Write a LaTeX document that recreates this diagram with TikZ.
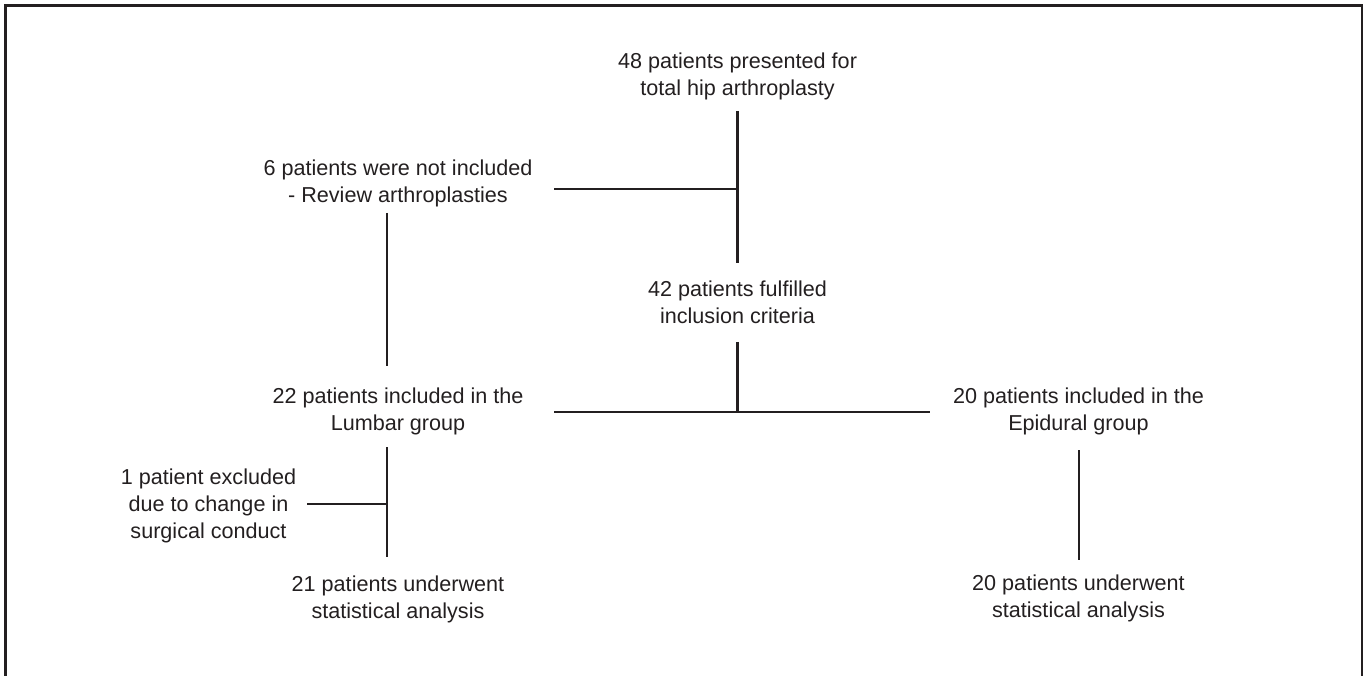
\documentclass[tikz,border=0pt]{standalone}
\usepackage{fontspec}
\setmainfont{Liberation Sans}
\definecolor{ink}{HTML}{231F20}
\newcommand{\sx}{\strut}
\begin{document}
\begin{tikzpicture}[x=1pt,y=-1pt,
  lbl/.style={align=center,inner sep=0pt,outer sep=0pt,text=ink,
    font=\fontsize{21.6pt}{27pt}\selectfont},
  conn/.style={draw=ink,line width=2.2pt},
  frame/.style={draw=ink,line width=2.6pt}]
\useasboundingbox (0,0) rectangle (1365,676);
\draw[frame] (5.3,690) -- (5.3,5.3) -- (1362,5.3) -- (1362,690);

\node[lbl] (top) at (737.5,76.4) {\sx 48 patients presented for\\\sx total hip arthroplasty};
\node[lbl] (n6) at (398,184) {\sx 6 patients were not included\\\sx - Review arthroplasties};
\node[lbl] (n42) at (737.5,304.8) {\sx 42 patients fulfilled\\\sx inclusion criteria};
\node[lbl] (n22) at (398,412) {\sx 22 patients included in the\\\sx Lumbar group};
\node[lbl] (n20) at (1078.5,411.5) {\sx 20 patients included in the\\\sx Epidural group};
\node[lbl] (n1) at (208.5,506) {\sx 1 patient excluded\\\sx due to change in\\\sx surgical conduct};
\node[lbl] (n21) at (398,600) {\sx 21 patients underwent\\\sx statistical analysis};
\node[lbl] (n20b) at (1078.5,599) {\sx 20 patients underwent\\\sx statistical analysis};

% trunk
\draw[conn] ([yshift=-7.6pt]top.south) -- ([yshift=14.8pt]n42.north);
\coordinate (b6) at ([xshift=22pt,yshift=-5pt]n6.east);
\draw[conn] (b6) -- (b6 -| top.south);
% left drop
\coordinate (lv) at ([xshift=-11pt,yshift=-2pt]n6.south);
\coordinate (lvend) at ([yshift=19pt]n22.north);
\draw[conn] (lv) -- (lv |- lvend);
% split
\draw[conn] ([yshift=-10pt]n42.south) -- (n42.south |- n22.east);
\coordinate (sl) at ([xshift=31pt]n22.east);
\coordinate (sr) at ([xshift=-23pt]n20.west);
\draw[conn] (sl) -- (sl -| sr);
% lumbar
\coordinate (lv2) at ([xshift=-11pt,yshift=-8pt]n22.south);
\coordinate (lv2end) at ([yshift=15.8pt]n21.north);
\draw[conn] (lv2) -- (lv2 |- lv2end);
\coordinate (b1) at ([xshift=11pt,yshift=2pt]n1.east);
\draw[conn] (b1) -- (b1 -| lv2);
% epidural
\draw[conn] ([xshift=0.5pt,yshift=-11.6pt]n20.south) -- ([xshift=0.5pt,yshift=11.8pt]n20b.north);
\end{tikzpicture}
\end{document}
